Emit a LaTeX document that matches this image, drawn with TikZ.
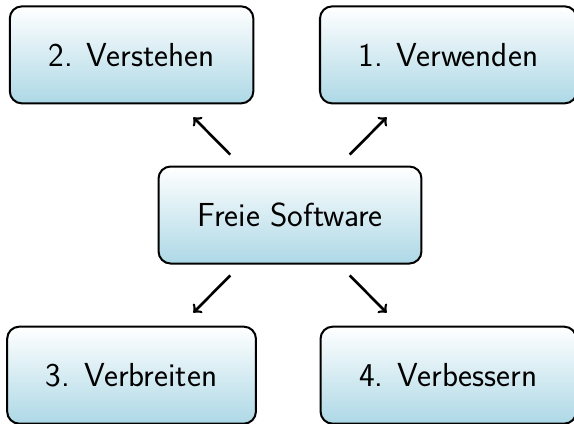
\documentclass[tikz,border=0pt]{standalone}
\usepackage{tikz}
\usetikzlibrary{arrows,positioning,shapes}
\definecolor{lightblue}{RGB}{173,216,230}

\begin{document}
\begin{tikzpicture}[auto,node distance = 2.79cm and 2.76cm,on grid]

\tikzstyle{every node}=[font=\sffamily\fontsize{16.5}{19}\selectfont]
\tikzstyle{freedom}=[draw=black,line width=1pt,rounded corners=6pt,top color=white,bottom color=lightblue,inner xsep=19.2pt,minimum height=1.69cm]
\tikzstyle{freearrow}=[-{to[scale=1.5]},line width=1.3pt,shorten <=1.48cm,shorten >=1.53cm]

\useasboundingbox (-5.052,-3.624) rectangle (4.948,3.746);

%Mitte
\node [freedom] (fs) {Freie Software};

%die vier Freiheiten
\node [freedom] (use) [above right=of fs] {1. Verwenden};
\node [freedom] (study) [above left=of fs] {2. Verstehen};
\node [freedom] (share) [below left=of fs] {3. Verbreiten};
\node [freedom] (improve) [below right=of fs] {4. Verbessern};

\path [freearrow] (fs.center) edge (use.center)
      [freearrow] (fs.center) edge (study.center)
      [freearrow] (fs.center) edge (share.center)
      [freearrow] (fs.center) edge (improve.center);

\end{tikzpicture}
\end{document}
